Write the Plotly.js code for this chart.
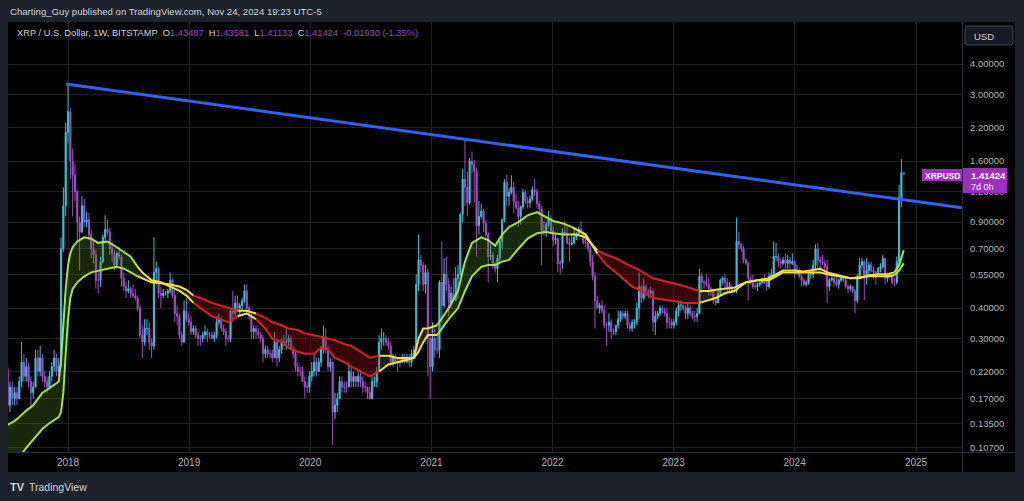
<!DOCTYPE html>
<html><head><meta charset="utf-8">
<script src="https://cdn.plot.ly/plotly-3.0.1.min.js"></script>
<style>html,body{margin:0;padding:0;background:#1e222d;overflow:hidden}#chart{width:1024px;height:501px}</style>
</head><body><div id="chart"></div>
<script>
// ---- weekly XRP/USD candles (Bitstamp), first bar week of 2017-07-03 ----
const firstWeek = '2017-07-03';
const open2017 = [0.225,0.16,0.19,0.17,0.18,0.17,0.20,0.24,0.21,0.23,0.20,0.18,0.19,0.25,0.22,0.25,0.21,0.20,0.19,0.21,0.23,0.25,0.22,0.23,0.70,1.05];
const high2017 = [0.235,0.20,0.20,0.19,0.19,0.21,0.29,0.26,0.25,0.24,0.21,0.20,0.27,0.27,0.28,0.26,0.22,0.21,0.22,0.24,0.27,0.26,0.25,0.78,1.25,2.30];
const low2017 = [0.145,0.15,0.16,0.16,0.16,0.17,0.19,0.20,0.20,0.19,0.155,0.17,0.19,0.21,0.21,0.20,0.19,0.18,0.19,0.20,0.22,0.21,0.21,0.23,0.68,0.95];
const close2017 = [0.16,0.19,0.17,0.18,0.17,0.20,0.24,0.21,0.23,0.20,0.18,0.19,0.25,0.22,0.25,0.21,0.20,0.19,0.21,0.23,0.25,0.22,0.23,0.70,1.05,2.10];

const open2018 = [2.10,2.55,1.60,1.40,1.20,0.90,0.82,1.05,0.90,0.92,0.80,0.70,0.66,0.52,0.52,0.62,0.78,0.84,0.82,0.70,0.67,0.60,0.67,0.65,0.53,0.49,0.47,0.48,0.46,0.45,0.44,0.40,0.31,0.29,0.33,0.33,0.29,0.28,0.56,0.58,0.46,0.45,0.46,0.46,0.47,0.52,0.45,0.38,0.37,0.31,0.29,0.39,0.36];
const high2018 = [3.31,2.65,1.80,1.55,1.22,0.95,1.15,1.12,0.99,0.98,0.84,0.76,0.69,0.56,0.65,0.80,0.96,0.92,0.85,0.75,0.69,0.68,0.71,0.66,0.56,0.51,0.52,0.49,0.50,0.48,0.45,0.41,0.34,0.36,0.36,0.35,0.30,0.78,0.62,0.59,0.49,0.48,0.47,0.48,0.56,0.53,0.47,0.41,0.38,0.32,0.43,0.44,0.38];
const low2018 = [1.90,1.35,0.95,1.10,0.75,0.57,0.81,0.86,0.86,0.76,0.64,0.61,0.48,0.46,0.49,0.61,0.75,0.80,0.66,0.62,0.57,0.58,0.63,0.49,0.47,0.44,0.46,0.44,0.44,0.43,0.39,0.30,0.25,0.28,0.31,0.27,0.25,0.27,0.50,0.44,0.40,0.44,0.45,0.44,0.46,0.44,0.35,0.34,0.30,0.28,0.29,0.35,0.34];
const close2018 = [2.55,1.60,1.40,1.20,0.90,0.82,1.05,0.90,0.92,0.80,0.70,0.66,0.52,0.52,0.62,0.78,0.84,0.82,0.70,0.67,0.60,0.67,0.65,0.53,0.49,0.47,0.48,0.46,0.45,0.44,0.40,0.31,0.29,0.33,0.33,0.29,0.28,0.56,0.58,0.46,0.45,0.46,0.46,0.47,0.52,0.45,0.38,0.37,0.31,0.29,0.39,0.36,0.35];

const open2019 = [0.35,0.32,0.33,0.31,0.30,0.30,0.31,0.32,0.31,0.31,0.30,0.31,0.35,0.36,0.33,0.32,0.30,0.30,0.39,0.38,0.42,0.40,0.41,0.43,0.47,0.40,0.37,0.32,0.33,0.32,0.31,0.30,0.26,0.27,0.26,0.26,0.25,0.29,0.25,0.27,0.29,0.29,0.29,0.30,0.27,0.26,0.23,0.22,0.22,0.20,0.19,0.19];
const high2019 = [0.37,0.34,0.34,0.32,0.31,0.32,0.34,0.33,0.32,0.32,0.32,0.37,0.38,0.37,0.34,0.33,0.31,0.40,0.47,0.45,0.45,0.42,0.44,0.50,0.50,0.41,0.38,0.34,0.34,0.33,0.32,0.31,0.28,0.28,0.27,0.27,0.32,0.30,0.28,0.30,0.31,0.33,0.31,0.31,0.28,0.27,0.24,0.23,0.23,0.21,0.20,0.22];
const low2019 = [0.31,0.31,0.30,0.28,0.28,0.29,0.30,0.29,0.30,0.30,0.29,0.30,0.34,0.32,0.31,0.28,0.29,0.29,0.35,0.37,0.39,0.37,0.39,0.42,0.38,0.36,0.30,0.30,0.30,0.30,0.29,0.24,0.25,0.25,0.25,0.24,0.25,0.23,0.24,0.26,0.28,0.27,0.28,0.27,0.25,0.22,0.21,0.21,0.20,0.17,0.18,0.18];
const close2019 = [0.32,0.33,0.31,0.30,0.30,0.31,0.32,0.31,0.31,0.30,0.31,0.35,0.36,0.33,0.32,0.30,0.30,0.39,0.38,0.42,0.40,0.41,0.43,0.47,0.40,0.37,0.32,0.33,0.32,0.31,0.30,0.26,0.27,0.26,0.26,0.25,0.29,0.25,0.27,0.29,0.29,0.29,0.30,0.27,0.26,0.23,0.22,0.22,0.20,0.19,0.19,0.21];

const open2020 = [0.21,0.22,0.24,0.22,0.24,0.27,0.30,0.27,0.23,0.24,0.15,0.16,0.17,0.20,0.19,0.19,0.19,0.22,0.20,0.21,0.20,0.21,0.20,0.19,0.19,0.18,0.17,0.20,0.20,0.22,0.29,0.30,0.30,0.29,0.28,0.24,0.25,0.24,0.24,0.24,0.25,0.24,0.25,0.24,0.26,0.27,0.50,0.63,0.60,0.50,0.56,0.30];
const high2020 = [0.24,0.26,0.25,0.25,0.28,0.34,0.33,0.28,0.25,0.24,0.18,0.18,0.21,0.21,0.20,0.20,0.24,0.23,0.22,0.21,0.22,0.22,0.21,0.20,0.19,0.19,0.21,0.21,0.23,0.31,0.33,0.32,0.31,0.30,0.29,0.26,0.26,0.25,0.25,0.26,0.26,0.26,0.26,0.27,0.28,0.55,0.80,0.66,0.62,0.60,0.58,0.31];
const low2020 = [0.20,0.21,0.21,0.22,0.23,0.26,0.26,0.22,0.22,0.11,0.14,0.15,0.17,0.18,0.18,0.18,0.19,0.19,0.19,0.19,0.19,0.19,0.18,0.18,0.17,0.17,0.17,0.19,0.19,0.22,0.27,0.28,0.28,0.27,0.23,0.23,0.24,0.22,0.23,0.24,0.24,0.24,0.23,0.23,0.25,0.27,0.47,0.56,0.47,0.46,0.21,0.17];
const close2020 = [0.22,0.24,0.22,0.24,0.27,0.30,0.27,0.23,0.24,0.15,0.16,0.17,0.20,0.19,0.19,0.19,0.22,0.20,0.21,0.20,0.21,0.20,0.19,0.19,0.18,0.17,0.20,0.20,0.22,0.29,0.30,0.30,0.29,0.28,0.24,0.25,0.24,0.24,0.24,0.25,0.24,0.25,0.24,0.26,0.27,0.50,0.63,0.60,0.50,0.56,0.30,0.23];

const open2021 = [0.23,0.30,0.27,0.27,0.51,0.41,0.55,0.50,0.42,0.46,0.43,0.53,0.55,0.97,1.35,1.25,1.08,1.60,1.55,1.45,0.87,0.95,1.00,0.89,0.80,0.65,0.66,0.61,0.58,0.64,0.75,0.92,1.31,1.15,1.19,1.25,1.09,1.03,0.95,1.04,1.19,1.10,1.08,1.12,1.22,1.20,1.07,1.02,0.83,0.82,0.88,0.93];
const high2021 = [0.35,0.33,0.31,0.52,0.75,0.64,0.65,0.53,0.49,0.53,0.59,0.60,0.98,1.49,1.96,1.45,1.65,1.75,1.62,1.50,1.10,1.07,1.02,0.92,0.82,0.73,0.68,0.62,0.66,0.76,0.93,1.35,1.41,1.24,1.40,1.32,1.18,1.10,1.05,1.23,1.22,1.14,1.15,1.26,1.35,1.23,1.10,1.05,0.91,0.90,1.00,0.96];
const low2021 = [0.22,0.25,0.26,0.25,0.35,0.40,0.47,0.37,0.40,0.42,0.43,0.44,0.54,0.90,1.05,0.95,1.06,1.42,1.08,0.65,0.80,0.93,0.82,0.78,0.51,0.63,0.58,0.56,0.51,0.62,0.70,0.90,1.05,1.05,1.17,0.98,1.02,0.86,0.88,1.02,1.07,1.03,1.03,1.10,1.15,1.03,0.96,0.60,0.79,0.78,0.86,0.81];
const close2021 = [0.30,0.27,0.27,0.51,0.41,0.55,0.50,0.42,0.46,0.43,0.53,0.55,0.97,1.35,1.25,1.08,1.60,1.55,1.45,0.87,0.95,1.00,0.89,0.80,0.65,0.66,0.61,0.58,0.64,0.75,0.92,1.31,1.15,1.19,1.25,1.09,1.03,0.95,1.04,1.19,1.10,1.08,1.12,1.22,1.20,1.07,1.02,0.83,0.82,0.88,0.93,0.83];

const open2022 = [0.83,0.76,0.77,0.61,0.61,0.82,0.81,0.74,0.73,0.74,0.78,0.80,0.84,0.82,0.74,0.74,0.70,0.62,0.54,0.43,0.40,0.41,0.39,0.34,0.34,0.35,0.32,0.32,0.34,0.36,0.38,0.37,0.38,0.34,0.33,0.35,0.35,0.40,0.49,0.44,0.49,0.47,0.46,0.47,0.35,0.37,0.38,0.40,0.39,0.38,0.35,0.35];
const high2022 = [0.86,0.80,0.78,0.63,0.85,0.91,0.86,0.78,0.81,0.85,0.82,0.86,0.91,0.82,0.77,0.76,0.72,0.66,0.56,0.45,0.42,0.43,0.41,0.35,0.38,0.36,0.33,0.34,0.39,0.39,0.39,0.39,0.39,0.35,0.36,0.36,0.42,0.56,0.50,0.53,0.50,0.48,0.49,0.48,0.39,0.39,0.41,0.41,0.40,0.40,0.37,0.36];
const low2022 = [0.72,0.73,0.56,0.55,0.58,0.79,0.73,0.62,0.72,0.73,0.76,0.79,0.81,0.73,0.71,0.68,0.59,0.52,0.33,0.40,0.38,0.38,0.33,0.28,0.32,0.30,0.31,0.31,0.33,0.35,0.36,0.36,0.33,0.32,0.32,0.33,0.34,0.36,0.42,0.43,0.45,0.44,0.44,0.32,0.31,0.36,0.37,0.38,0.37,0.33,0.33,0.33];
const close2022 = [0.76,0.77,0.61,0.61,0.82,0.81,0.74,0.73,0.74,0.78,0.80,0.84,0.82,0.74,0.74,0.70,0.62,0.54,0.43,0.40,0.41,0.39,0.34,0.34,0.35,0.32,0.32,0.34,0.36,0.38,0.37,0.38,0.34,0.33,0.35,0.35,0.40,0.49,0.44,0.49,0.47,0.46,0.47,0.35,0.37,0.38,0.40,0.39,0.38,0.35,0.35,0.34];

const open2023 = [0.34,0.35,0.39,0.41,0.41,0.40,0.38,0.40,0.38,0.37,0.37,0.38,0.54,0.51,0.51,0.50,0.48,0.47,0.43,0.42,0.46,0.52,0.53,0.51,0.48,0.49,0.47,0.47,0.75,0.73,0.70,0.63,0.61,0.53,0.51,0.49,0.49,0.50,0.51,0.52,0.51,0.49,0.54,0.55,0.65,0.65,0.62,0.61,0.63,0.61,0.63,0.61];
const high2023 = [0.36,0.40,0.43,0.43,0.42,0.41,0.42,0.41,0.39,0.39,0.40,0.58,0.56,0.52,0.55,0.53,0.49,0.48,0.44,0.48,0.53,0.54,0.55,0.53,0.51,0.50,0.49,0.94,0.82,0.74,0.72,0.64,0.62,0.54,0.55,0.51,0.51,0.52,0.53,0.55,0.52,0.56,0.58,0.75,0.74,0.67,0.64,0.65,0.67,0.66,0.65,0.67];
const low2023 = [0.33,0.34,0.37,0.39,0.39,0.36,0.36,0.37,0.36,0.35,0.35,0.38,0.46,0.48,0.49,0.45,0.45,0.42,0.41,0.42,0.45,0.50,0.48,0.46,0.47,0.46,0.46,0.46,0.70,0.68,0.61,0.60,0.43,0.50,0.48,0.48,0.47,0.49,0.50,0.50,0.47,0.48,0.53,0.55,0.63,0.59,0.58,0.60,0.58,0.58,0.58,0.60];
const close2023 = [0.35,0.39,0.41,0.41,0.40,0.38,0.40,0.38,0.37,0.37,0.38,0.54,0.51,0.51,0.50,0.48,0.47,0.43,0.42,0.46,0.52,0.53,0.51,0.48,0.49,0.47,0.47,0.75,0.73,0.70,0.63,0.61,0.53,0.51,0.49,0.49,0.50,0.51,0.52,0.51,0.49,0.54,0.55,0.65,0.65,0.62,0.61,0.63,0.61,0.63,0.61,0.62];

const open2024 = [0.62,0.56,0.57,0.54,0.52,0.50,0.51,0.55,0.55,0.60,0.70,0.63,0.62,0.61,0.59,0.49,0.52,0.53,0.51,0.50,0.52,0.53,0.52,0.49,0.48,0.49,0.47,0.43,0.54,0.60,0.62,0.53,0.57,0.60,0.57,0.56,0.56,0.58,0.59,0.64,0.53,0.54,0.54,0.51,0.51,0.62,1.14,1.43487];
const high2024 = [0.63,0.60,0.58,0.55,0.53,0.52,0.57,0.57,0.63,0.73,0.74,0.65,0.66,0.63,0.63,0.53,0.56,0.54,0.54,0.53,0.54,0.54,0.53,0.50,0.50,0.49,0.48,0.55,0.64,0.64,0.63,0.64,0.62,0.62,0.59,0.57,0.59,0.61,0.66,0.64,0.55,0.56,0.55,0.53,0.65,1.28,1.63,1.43581];
const low2024 = [0.53,0.55,0.53,0.49,0.49,0.49,0.50,0.53,0.53,0.57,0.58,0.55,0.60,0.55,0.42,0.47,0.52,0.49,0.49,0.48,0.51,0.51,0.48,0.46,0.47,0.46,0.38,0.42,0.53,0.58,0.43,0.50,0.55,0.56,0.53,0.50,0.55,0.56,0.58,0.50,0.51,0.53,0.50,0.49,0.50,0.60,1.04,1.41133];
const close2024 = [0.56,0.57,0.54,0.52,0.50,0.51,0.55,0.55,0.60,0.70,0.63,0.62,0.61,0.59,0.49,0.52,0.53,0.51,0.50,0.52,0.53,0.52,0.49,0.48,0.49,0.47,0.43,0.54,0.60,0.62,0.53,0.57,0.60,0.57,0.56,0.56,0.58,0.59,0.64,0.53,0.54,0.54,0.51,0.51,0.62,1.14,1.43487,1.41424];

// ---- moving-average ribbon (fast / slow), sampled at these week numbers ----
const bandWeek = [0,3,5,8,11,13,15,18,21,22,23,24,25,26,27,28,30,33,36,39,43,47,50,53,56,58,62,66,70,74,77,80,83,88,95,99,103,107,111,114,118,121,125,128,132,135,138,141,145,148,152,156,160,164,168,172,175,177,179,181,183,185,190,194,197,200,204,207,210,213,216,220,224,228,232,235,239,243,245,249,254,258,262,266,269,271,278,285,292,298,302,305,309,313,318,323,328,334,339,343,347,350,353,356,359,363,367,371,375,379,382,384,386];
const fastBand = [0.133,0.138,0.143,0.152,0.160,0.170,0.180,0.188,0.196,0.200,0.245,0.36,0.48,0.60,0.67,0.71,0.75,0.78,0.77,0.74,0.75,0.71,0.68,0.65,0.59,0.56,0.52,0.51,0.49,0.47,0.45,0.42,0.40,0.37,0.35,0.37,0.38,0.36,0.33,0.30,0.29,0.275,0.265,0.26,0.26,0.275,0.27,0.25,0.24,0.23,0.22,0.21,0.22,0.235,0.24,0.245,0.25,0.30,0.33,0.33,0.335,0.34,0.40,0.47,0.62,0.74,0.78,0.76,0.72,0.80,0.86,0.90,0.96,0.99,0.94,0.91,0.89,0.86,0.84,0.80,0.67,0.60,0.56,0.52,0.49,0.48,0.44,0.43,0.42,0.42,0.43,0.44,0.46,0.47,0.51,0.52,0.53,0.57,0.57,0.565,0.575,0.58,0.56,0.55,0.54,0.53,0.53,0.545,0.55,0.55,0.56,0.60,0.69];
const slowBand = [0.088,0.094,0.098,0.107,0.116,0.122,0.128,0.135,0.141,0.143,0.150,0.18,0.26,0.36,0.44,0.48,0.51,0.54,0.56,0.57,0.58,0.59,0.58,0.56,0.54,0.53,0.51,0.505,0.50,0.49,0.475,0.45,0.44,0.42,0.40,0.39,0.39,0.38,0.365,0.35,0.34,0.33,0.325,0.315,0.31,0.305,0.30,0.295,0.285,0.28,0.265,0.25,0.255,0.255,0.25,0.25,0.25,0.265,0.29,0.31,0.31,0.31,0.36,0.40,0.47,0.54,0.59,0.60,0.60,0.62,0.63,0.70,0.77,0.81,0.82,0.81,0.80,0.80,0.80,0.78,0.69,0.66,0.64,0.61,0.59,0.58,0.53,0.51,0.49,0.47,0.47,0.475,0.48,0.485,0.51,0.52,0.52,0.56,0.56,0.56,0.56,0.56,0.55,0.545,0.54,0.53,0.535,0.54,0.54,0.54,0.545,0.57,0.61];
// trend regime per sample: g = bullish, y = neutral, r = bearish
const bandState = ('g'.repeat(24)+'y'.repeat(7)+'r'.repeat(4)+'y'.repeat(2)+'r'.repeat(15)+'y'.repeat(9)+'g'.repeat(16)+'y'.repeat(3)+'r'.repeat(9)+'y'.repeat(21)+'g'.repeat(3)).split('');

// ---- trendline drawing ----
const trendDates = ['2017-12-26','2025-05-19'];
const trendValues = [3.31, 1.03];

// ---- axis labels ----
const priceTicks = [0.107,0.135,0.17,0.22,0.30,0.40,0.55,0.70,0.90,1.20,1.60,2.20,3.00,4.00];
const priceLabels = ['0.10700','0.13500','0.17000','0.22000','0.30000','0.40000','0.55000','0.70000','0.90000','1.20000','1.60000','2.20000','3.00000','4.00000'];
const yearTicks = ['2018-01-01','2019-01-01','2020-01-01','2021-01-01','2022-01-01','2023-01-01','2024-01-01','2025-01-01'];
const yearLabels = ['2018','2019','2020','2021','2022','2023','2024','2025'];

// ---------------------------------------------------------------
const open = [].concat(open2017,open2018,open2019,open2020,open2021,open2022,open2023,open2024);
const high = [].concat(high2017,high2018,high2019,high2020,high2021,high2022,high2023,high2024);
const low = [].concat(low2017,low2018,low2019,low2020,low2021,low2022,low2023,low2024);
const close = [].concat(close2017,close2018,close2019,close2020,close2021,close2022,close2023,close2024);
const t0 = Date.parse(firstWeek+'T00:00:00Z');
const weekDate = i => new Date(t0 + i*7*86400000).toISOString().slice(0,10);
const dates = close.map((_,i)=>weekDate(i));
const bandDates = bandWeek.map(weekDate);

const FONT = '"Liberation Sans", Arial, sans-serif';
const TXT = '#d1d4dc', AXT = '#b2b5be';
const UP = '#3cc0d6', DOWN = '#a64cc8', PURPLE = '#9c2fbd';
const lineCol = {g:'#a9e04c', y:'#efe04c', r:'#d42424'};
const fillCol = {g:'rgba(80,140,30,0.30)', y:'rgba(120,110,20,0.28)', r:'rgba(160,18,18,0.34)'};

// split ribbon into regime segments
const segs = [];
let s = 0;
for (let k=1;k<=bandWeek.length;k++){
  if (k===bandWeek.length || bandState[k]!==bandState[s]) {
    segs.push({st:bandState[s], from:s, to:Math.min(k,bandWeek.length-1)});
    s = k;
  }
}
const traces = [];
segs.forEach(g=>{
  const xs = bandDates.slice(g.from,g.to+1);
  traces.push({type:'scatter',mode:'lines',x:xs,y:slowBand.slice(g.from,g.to+1),line:{width:0},hoverinfo:'skip'});
  traces.push({type:'scatter',mode:'lines',x:xs,y:fastBand.slice(g.from,g.to+1),line:{width:0},fill:'tonexty',fillcolor:fillCol[g.st],hoverinfo:'skip'});
});
traces.push({type:'candlestick',x:dates,open:open,high:high,low:low,close:close,
  increasing:{line:{color:UP,width:1},fillcolor:UP},
  decreasing:{line:{color:DOWN,width:1},fillcolor:DOWN},
  whiskerwidth:0,hoverinfo:'skip'});
segs.forEach(g=>{
  const xs = bandDates.slice(g.from,g.to+1);
  traces.push({type:'scatter',mode:'lines',x:xs,y:slowBand.slice(g.from,g.to+1),line:{color:lineCol[g.st],width:2},hoverinfo:'skip'});
  traces.push({type:'scatter',mode:'lines',x:xs,y:fastBand.slice(g.from,g.to+1),line:{color:lineCol[g.st],width:2},hoverinfo:'skip'});
});
traces.push({type:'scatter',mode:'lines',x:trendDates,y:trendValues,line:{color:'#2f63f0',width:3},hoverinfo:'skip'});

const px = x => (x-8)/954;
const py = y => (452-y)/430;
const roundRect = (x0,y0,x1,y1,r) => {
  const X0=px(x0),X1=px(x1),Y0=py(y0),Y1=py(y1),rx=r/954,ry=r/430;
  return `M${X0+rx},${Y0} L${X1-rx},${Y0} Q${X1},${Y0} ${X1},${Y0-ry} L${X1},${Y1+ry} Q${X1},${Y1} ${X1-rx},${Y1} L${X0+rx},${Y1} Q${X0},${Y1} ${X0},${Y1+ry} L${X0},${Y0-ry} Q${X0},${Y0} ${X0+rx},${Y0} Z`;
};
const V = t => `<span style="color:#a346bd">${t}</span>`;
const sp = '\u00a0';
const legendText = `XRP / U.S. Dollar, 1W, BITSTAMP${sp}${sp}O${V('1.43487')}${sp}${sp}H${V('1.43581')}${sp}${sp}L${V('1.41133')}${sp}${sp}C${V('1.41424')}${sp}${sp}${V('-0.01930 (-1.35%)')}`;

const layout = {
  width:1024, height:501,
  margin:{l:8,r:62,t:22,b:49,pad:0},
  paper_bgcolor:'#1e222d', plot_bgcolor:'#000000',
  showlegend:false,
  font:{family:FONT,color:AXT},
  xaxis:{type:'date',range:['2017-07-04','2025-05-19 17:00'],rangeslider:{visible:false},
    tickvals:yearTicks,ticktext:yearLabels,tickfont:{family:FONT,size:10,color:AXT},
    gridcolor:'#212121',gridwidth:1,zeroline:false,showline:false,ticks:'',ticklabelstandoff:3,fixedrange:true},
  yaxis:{type:'log',side:'right',range:[-0.9877,0.7742],tickvals:priceTicks,ticktext:priceLabels,
    tickfont:{family:FONT,size:9.5,color:AXT},gridcolor:'#212121',gridwidth:1,zeroline:false,showline:false,
    ticks:'',ticklabelstandoff:7,fixedrange:true},
  shapes:[
    {type:'rect',xref:'paper',yref:'paper',x0:px(8),x1:px(1015),y0:py(472),y1:py(22),fillcolor:'#000',line:{width:0},layer:'below'},
    {type:'line',xref:'paper',yref:'paper',x0:px(962.5),x1:px(962.5),y0:py(472),y1:py(22),line:{color:'#2a2e39',width:1}},
    {type:'line',xref:'paper',yref:'paper',x0:px(8),x1:px(1015),y0:py(452.5),y1:py(452.5),line:{color:'#2a2e39',width:1}},
    {type:'path',xref:'paper',yref:'paper',path:roundRect(965,26,1013,45,3),fillcolor:'#161a25',line:{color:'#434651',width:1}},
    {type:'rect',xref:'paper',yref:'paper',x0:px(922),x1:px(962),y0:py(181),y1:py(169),fillcolor:PURPLE,line:{width:0}},
    {type:'rect',xref:'paper',yref:'paper',x0:px(963),x1:px(1007),y0:py(193),y1:py(168),fillcolor:PURPLE,line:{width:0}}
  ],
  annotations:[
    {xref:'paper',yref:'paper',x:px(8),y:py(11.5),xanchor:'left',yanchor:'middle',showarrow:false,
     text:'Charting_Guy published on TradingView.com, Nov 24, 2024 19:23 UTC-5',font:{family:FONT,size:9.6,color:TXT}},
    {xref:'paper',yref:'paper',x:px(15),y:py(33),xanchor:'left',yanchor:'middle',showarrow:false,
     text:legendText,font:{family:FONT,size:9.3,color:TXT}},
    {xref:'paper',yref:'paper',x:px(972),y:py(36),xanchor:'left',yanchor:'middle',showarrow:false,
     text:'USD',font:{family:FONT,size:9.5,color:TXT}},
    {xref:'paper',yref:'paper',x:px(942),y:py(175.5),xanchor:'center',yanchor:'middle',showarrow:false,
     text:'<b>XRPUSD</b>',font:{family:FONT,size:8.5,color:'#ffffff'}},
    {xref:'paper',yref:'paper',x:px(969),y:py(175.5),xanchor:'left',yanchor:'middle',showarrow:false,
     text:'<b>1.41424</b>',font:{family:FONT,size:9.5,color:'#ffffff'}},
    {xref:'paper',yref:'paper',x:px(969),y:py(186.5),xanchor:'left',yanchor:'middle',showarrow:false,
     text:'7d 0h',font:{family:FONT,size:9,color:'#ffffff'}},
    {xref:'paper',yref:'paper',x:px(8),y:py(487),xanchor:'left',yanchor:'middle',showarrow:false,
     text:'<b>TV</b>',font:{family:FONT,size:11,color:TXT}},
    {xref:'paper',yref:'paper',x:px(27),y:py(487),xanchor:'left',yanchor:'middle',showarrow:false,
     text:'TradingView',font:{family:FONT,size:10.5,color:TXT}}
  ]
};
Plotly.newPlot('chart',traces,layout,{displayModeBar:false,staticPlot:true});
</script></body></html>
